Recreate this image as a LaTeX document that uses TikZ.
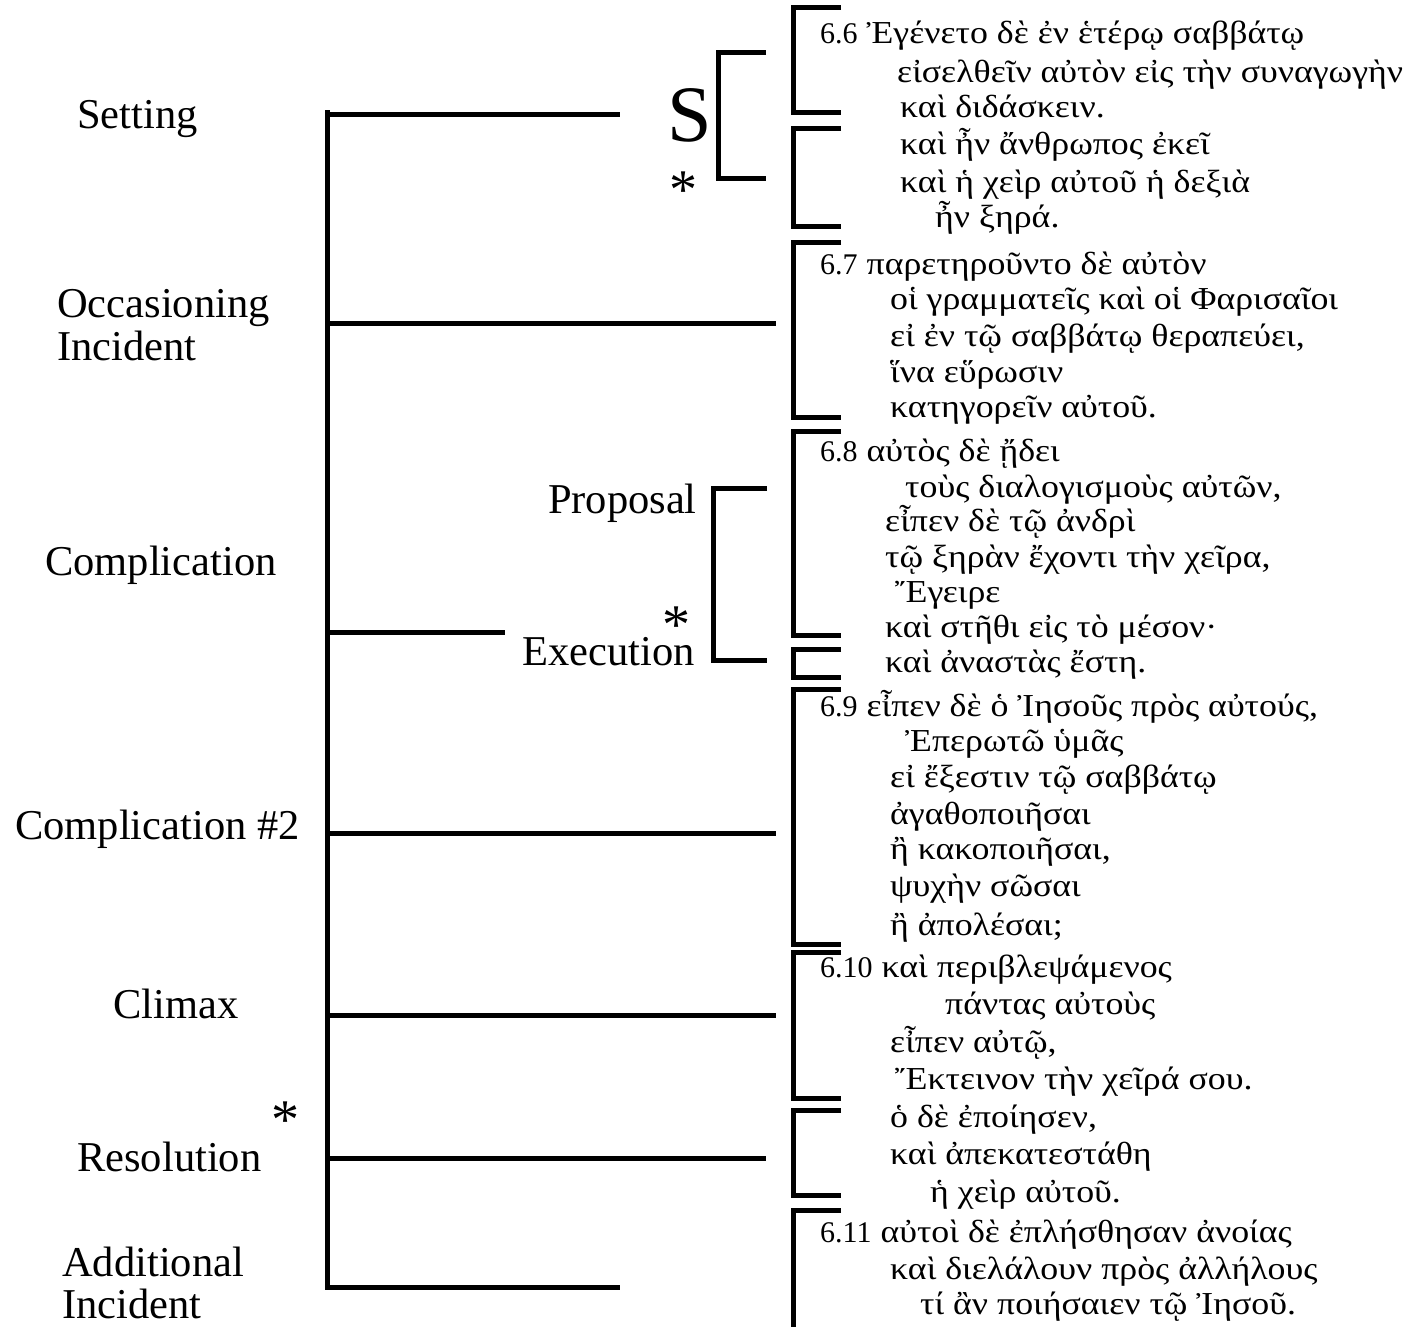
\documentclass[tikz,border=0pt]{standalone}
\usepackage{fontspec}
\setmainfont{Liberation Serif}
\newfontfamily\gkfam[FakeStretch=1.12]{Liberation Serif}
\newcommand{\vn}[1]{{\rmfamily\fontsize{30}{32}\selectfont #1}}
\tikzset{
  ln/.style={line width=5pt},
  lab/.style={font=\fontsize{42.5}{44}\selectfont, inner sep=0pt, anchor=base west},
  labr/.style={font=\fontsize{42.5}{44}\selectfont, inner sep=0pt, anchor=base east},
  star/.style={font=\fontsize{56}{58}\selectfont, inner sep=0pt, anchor=base},
  gk/.style={font=\gkfam\fontsize{32}{34}\selectfont, inner sep=0pt, anchor=base west},
}
\begin{document}
\begin{tikzpicture}[x=1pt,y=-1pt]
\useasboundingbox (0,0) rectangle (1414,1326);
% trunk
\coordinate (ttop) at (327,110);
\coordinate (tbot) at (327,1290);
\draw[ln] (ttop) -- (tbot);
% branches
\coordinate (b1) at (327,114);  \coordinate (e1) at (620,114);
\coordinate (b2) at (327,323);  \coordinate (e2) at (776,323);
\coordinate (b3) at (327,632);  \coordinate (e3) at (505,632);
\coordinate (b4) at (327,833);  \coordinate (e4) at (776,833);
\coordinate (b5) at (327,1015); \coordinate (e5) at (776,1015);
\coordinate (b6) at (327,1158); \coordinate (e6) at (766,1158);
\coordinate (b7) at (327,1287); \coordinate (e7) at (620,1287);
\draw[ln] (b1) -- (e1);
\draw[ln] (b2) -- (e2);
\draw[ln] (b3) -- (e3);
\draw[ln] (b4) -- (e4);
\draw[ln] (b5) -- (e5);
\draw[ln] (b6) -- (e6);
\draw[ln] (b7) -- (e7);
% S bracket
\draw[ln] (766,52) -| (718,178) -- (766,178);
% Proposal / Execution bracket
\draw[ln] (767,488) -| (713,660) -- (767,660);
% right brackets
\draw[ln] (841,7) -| (793,112) -- (841,112);
\draw[ln] (841,128) -| (793,226) -- (841,226);
\draw[ln] (841,242) -| (793,417) -- (841,417);
\draw[ln] (841,431) -| (793,635) -- (841,635);
\draw[ln] (841,649) -| (793,677) -- (841,677);
\draw[ln] (841,689) -| (793,944) -- (841,944);
\draw[ln] (841,952) -| (793,1098) -- (841,1098);
\draw[ln] (841,1110) -| (793,1195) -- (841,1195);
\draw[ln] (841,1210) -| (793,1330);
% left labels
\node[lab] (lset) at (77,128) {Setting};
\node[lab] (locc1) at (57,317) {Occasioning};
\node[lab] (locc2) at (57,360) {Incident};
\node[lab] (lcomp) at (45,575) {Complication};
\node[lab] (lcomp2) at (15,839) {Complication \#2};
\node[lab] (lclim) at (113,1018) {Climax};
\node[lab] (lres) at (77,1171) {Resolution};
\node[lab] (ladd1) at (62,1276) {Additional};
\node[lab] (ladd2) at (62,1318) {Incident};
\node[labr] (lprop) at (697,513) {Proposal};
\node[labr] (lexec) at (695,665) {Execution};
\node[font=\fontsize{80}{82}\selectfont, inner sep=0pt, anchor=base] (lS) at (690,141) {S};
\node[star] (st1) at (683,208) {*};
\node[star] (st2) at (676,643) {*};
\node[star] (st3) at (285,1138) {*};
% Greek text
\node[gk] (g1) at (820,43) {\vn{6.6} Ἐγένετο δὲ ἐν ἑτέρῳ σαββάτῳ};
\node[gk] (g2) at (897,82) {εἰσελθεῖν αὐτὸν εἰς τὴν συναγωγὴν};
\node[gk] (g3) at (900,117) {καὶ διδάσκειν.};
\node[gk] (g4) at (900,154) {καὶ ἦν ἄνθρωπος ἐκεῖ};
\node[gk] (g5) at (900,192) {καὶ ἡ χεὶρ αὐτοῦ ἡ δεξιὰ};
\node[gk] (g6) at (935,227) {ἦν ξηρά.};
\node[gk] (g7) at (820,274) {\vn{6.7} παρετηροῦντο δὲ αὐτὸν};
\node[gk] (g8) at (890,309) {οἱ γραμματεῖς καὶ οἱ Φαρισαῖοι};
\node[gk] (g9) at (890,346) {εἰ ἐν τῷ σαββάτῳ θεραπεύει,};
\node[gk] (g10) at (890,382) {ἵνα εὕρωσιν};
\node[gk] (g11) at (890,417) {κατηγορεῖν αὐτοῦ.};
\node[gk] (g12) at (820,461) {\vn{6.8} αὐτὸς δὲ ᾔδει};
\node[gk] (g13) at (905,497) {τοὺς διαλογισμοὺς αὐτῶν,};
\node[gk] (g14) at (885,531) {εἶπεν δὲ τῷ ἀνδρὶ};
\node[gk] (g15) at (885,567) {τῷ ξηρὰν ἔχοντι τὴν χεῖρα,};
\node[gk] (g16) at (895,602) {Ἔγειρε};
\node[gk] (g17) at (885,637) {καὶ στῆθι εἰς τὸ μέσον·};
\node[gk] (g18) at (885,672) {καὶ ἀναστὰς ἔστη.};
\node[gk] (g19) at (820,716) {\vn{6.9} εἶπεν δὲ ὁ Ἰησοῦς πρὸς αὐτούς,};
\node[gk] (g20) at (905,751) {Ἐπερωτῶ ὑμᾶς};
\node[gk] (g21) at (890,787) {εἰ ἔξεστιν τῷ σαββάτῳ};
\node[gk] (g22) at (890,824) {ἀγαθοποιῆσαι};
\node[gk] (g23) at (890,859) {ἢ κακοποιῆσαι,};
\node[gk] (g24) at (890,896) {ψυχὴν σῶσαι};
\node[gk] (g25) at (890,935) {ἢ ἀπολέσαι;};
\node[gk] (g26) at (820,977) {\vn{6.10} καὶ περιβλεψάμενος};
\node[gk] (g27) at (945,1014) {πάντας αὐτοὺς};
\node[gk] (g28) at (890,1052) {εἶπεν αὐτῷ,};
\node[gk] (g29) at (895,1089) {Ἔκτεινον τὴν χεῖρά σου.};
\node[gk] (g30) at (890,1127) {ὁ δὲ ἐποίησεν,};
\node[gk] (g31) at (890,1164) {καὶ ἀπεκατεστάθη};
\node[gk] (g32) at (930,1202) {ἡ χεὶρ αὐτοῦ.};
\node[gk] (g33) at (820,1242) {\vn{6.11} αὐτοὶ δὲ ἐπλήσθησαν ἀνοίας};
\node[gk] (g34) at (890,1279) {καὶ διελάλουν πρὸς ἀλλήλους};
\node[gk] (g35) at (920,1314) {τί ἂν ποιήσαιεν τῷ Ἰησοῦ.};
\end{tikzpicture}
\end{document}
